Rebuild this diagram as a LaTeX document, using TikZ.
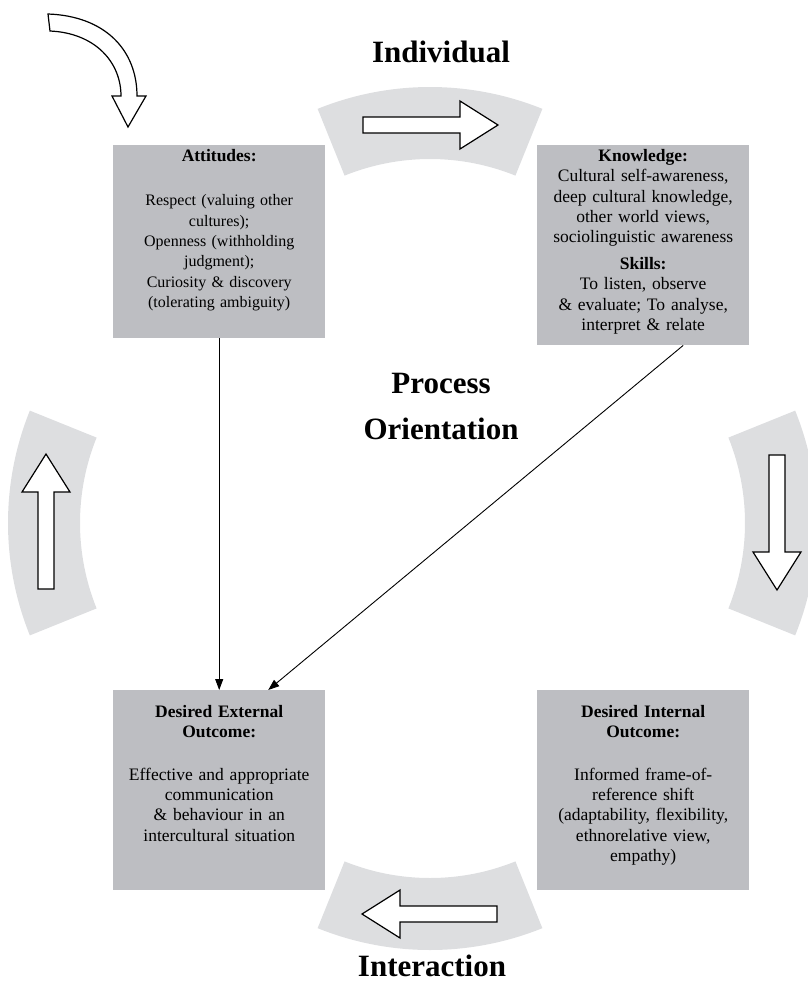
\documentclass[tikz,border=0pt]{standalone}
\usepackage{fontspec}
\setmainfont{Liberation Serif}
\usetikzlibrary{arrows.meta,positioning}

\definecolor{boxgray}{RGB}{189,190,194}
\definecolor{bandgray}{RGB}{221,222,224}

\tikzset{
  box/.style={fill=boxgray, minimum width=212pt, minimum height=200pt, inner sep=0pt, anchor=north west},
  boxtext/.style={text width=208pt, align=center, inner sep=0pt, font=\fontsize{#1}{20.4}\selectfont},
  boxtext/.default=17.5,
  heading/.style={align=center, font=\fontsize{31}{46}\selectfont\bfseries},
  band/.style={fill=bandgray},
  blockarrow/.style={draw=black, fill=white, line width=1.2pt, line join=miter},
  link/.style={-{Triangle[length=11pt,width=8pt]}, line width=0.9pt},
}

\begin{document}
\begin{tikzpicture}[x=1pt,y=1pt]
\useasboundingbox (0,0) rectangle (807,-997);

% grey bands round the cycle
\fill[band] (430,-387) ++(68:300) arc[start angle=68,end angle=112,radius=300] -- ++(112:-72) arc[start angle=112,end angle=68,radius=228] -- cycle;
\fill[band] (517,-523) ++(-22:300) arc[start angle=-22,end angle=22,radius=300] -- ++(22:-72) arc[start angle=22,end angle=-22,radius=228] -- cycle;
\fill[band] (430,-650) ++(248:300) arc[start angle=248,end angle=292,radius=300] -- ++(292:-72) arc[start angle=292,end angle=248,radius=228] -- cycle;
\fill[band] (308,-523) ++(158:300) arc[start angle=158,end angle=202,radius=300] -- ++(202:-72) arc[start angle=202,end angle=158,radius=228] -- cycle;

% block arrows on the bands
\draw[blockarrow, shift={(430,-125)}] (-67,-8) -- (30,-8) -- (30,-24) -- (68,0) -- (30,24) -- (30,8) -- (-67,8) -- cycle;
\draw[blockarrow, shift={(777,-522)}, rotate=-90] (-67,-8) -- (30,-8) -- (30,-24) -- (68,0) -- (30,24) -- (30,8) -- (-67,8) -- cycle;
\draw[blockarrow, shift={(430,-914)}, rotate=180] (-67,-8) -- (30,-8) -- (30,-24) -- (68,0) -- (30,24) -- (30,8) -- (-67,8) -- cycle;
\draw[blockarrow, shift={(46,-522)}, rotate=90] (-67,-8) -- (30,-8) -- (30,-24) -- (68,0) -- (30,24) -- (30,8) -- (-67,8) -- cycle;

% entry arrow, top left
\draw[blockarrow] (48,-14) .. controls (105,-16) and (137,-50) .. (137,-96) -- (146,-96) -- (128,-127) -- (112,-96) -- (121,-96) .. controls (121,-62) and (95,-33) .. (50,-31) -- cycle;

% the four boxes
\node[box, minimum height=193pt] (att) at (113,-145) {};
\node[box] (knw) at (537,-145) {};
\node[box] (ext) at (113,-690) {};
\node[box] (int) at (537,-690) {};

\node[boxtext=16, below=4pt of att.north] (atttext) {{\fontsize{17.5}{20.4}\selectfont\textbf{Attitudes:}}\\[24pt]
  Respect (valuing other\\ cultures);\\ Openness (withholding\\ judgment);\\
  Curiosity \& discovery\\ (tolerating ambiguity)};
\node[boxtext, below=4pt of knw.north] (knwtext) {\textbf{Knowledge:}\\
  Cultural self-awareness,\\ deep cultural knowledge,\\ other world views,\\
  sociolinguistic awareness\\[6pt] \textbf{Skills:}\\ To listen, observe\\
  \& evaluate; To analyse,\\ interpret \& relate};
\node[boxtext, below=15pt of ext.north] (exttext) {\textbf{Desired External}\\ \textbf{Outcome:}\\[22pt]
  Effective and appropriate\\ communication\\ \& behaviour in an\\ intercultural situation};
\node[boxtext, below=15pt of int.north] (inttext) {\textbf{Desired Internal}\\ \textbf{Outcome:}\\[22pt]
  Informed frame-of-\\ reference shift\\ (adaptability, flexibility,\\
  ethnorelative view,\\ empathy)};

% headings
\node[heading] (indiv) at (441,-52) {Individual};
\node[heading] (proc) at (441,-406) {Process\\Orientation};
\node[heading] (inter) at (432,-966) {Interaction};

% links into the external outcome
\draw[link] (att.south) -- (ext.north);
\draw[link] ([xshift=40pt]knw.south) -- ([xshift=49pt]ext.north);
\end{tikzpicture}
\end{document}
